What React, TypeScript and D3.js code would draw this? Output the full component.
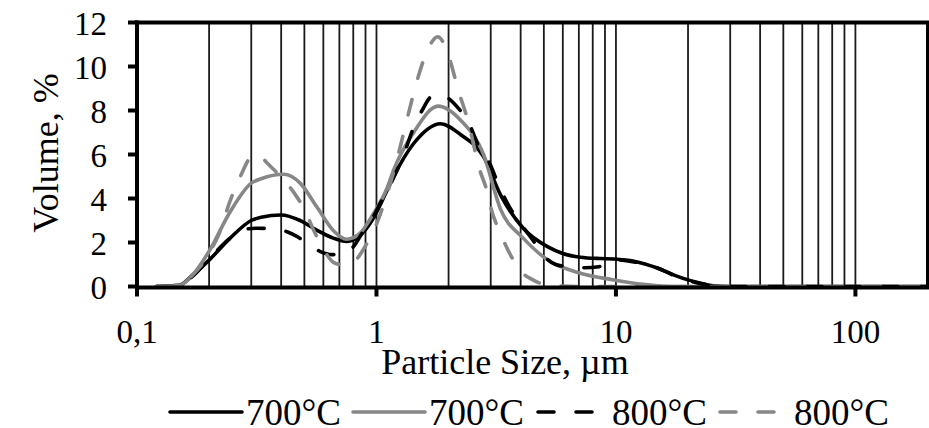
import React from "react";
import * as d3 from "d3";

// Particle size distribution: volume % against particle size (µm, log axis)
const sizes700a = [0.12, 0.15, 0.17, 0.2, 0.245, 0.3, 0.33, 0.4, 0.48, 0.565, 0.66, 0.75, 0.85, 0.97, 1.11, 1.18, 1.43, 1.85, 2.25, 2.8, 3.3, 4.1, 5.2, 6.0, 7.1, 8.6, 9.8, 11.9, 14.9, 17.5, 20, 22.6, 25.5, 30, 200];
const volume700a = [0, 0.05, 0.5, 1.2, 2.2, 3.0, 3.15, 3.25, 3.0, 2.55, 2.2, 2.05, 2.3, 3.1, 4.4, 5.0, 6.5, 7.4, 6.9, 5.9, 4.15, 2.65, 1.8, 1.5, 1.33, 1.27, 1.25, 1.15, 0.84, 0.52, 0.3, 0.15, 0.03, 0, 0];

const sizes700b = [0.12, 0.15, 0.17, 0.2, 0.245, 0.3, 0.33, 0.41, 0.48, 0.565, 0.66, 0.75, 0.85, 0.97, 1.11, 1.18, 1.43, 1.81, 2.25, 2.8, 3.3, 4.1, 5.2, 7.1, 9.8, 13, 18, 200];
const volume700b = [0, 0.05, 0.5, 1.6, 3.4, 4.7, 4.9, 5.1, 4.7, 3.6, 2.55, 2.15, 2.4, 3.3, 4.5, 5.3, 7.0, 8.2, 7.55, 6.0, 3.5, 2.2, 1.2, 0.6, 0.3, 0.1, 0, 0];

const sizes800a = [0.12, 0.15, 0.17, 0.2, 0.245, 0.28, 0.32, 0.37, 0.42, 0.47, 0.52, 0.58, 0.65, 0.72, 0.8, 0.88, 0.95, 1.05, 1.15, 1.3, 1.45, 1.55, 1.7, 1.85, 2.0, 2.2, 2.4, 2.75, 2.9, 3.3, 3.6, 4.1, 4.5, 5.0, 5.6, 6.5, 7.2, 8.5, 9.8, 11.9, 14.9, 17.5, 20, 22.6, 25.5, 30, 200];
const volume800a = [0, 0.05, 0.45, 1.25, 2.2, 2.6, 2.65, 2.6, 2.5, 2.25, 1.9, 1.6, 1.45, 1.45, 1.8, 2.5, 3.0, 3.9, 4.7, 6.0, 7.4, 8.0, 8.65, 8.75, 8.55, 8.1, 7.55, 6.1, 5.8, 4.4, 3.6, 2.7, 2.1, 1.4, 1.0, 0.88, 0.85, 0.9, 1.22, 1.12, 0.84, 0.5, 0.28, 0.13, 0.03, 0, 0];

const sizes800b = [0.12, 0.15, 0.17, 0.2, 0.22, 0.245, 0.27, 0.3, 0.32, 0.35, 0.39, 0.45, 0.5, 0.55, 0.6, 0.66, 0.7, 0.75, 0.82, 0.9, 0.97, 1.1, 1.2, 1.3, 1.4, 1.5, 1.6, 1.7, 1.8, 1.9, 2.0, 2.2, 2.4, 2.7, 2.9, 3.0, 3.3, 3.6, 4.0, 4.5, 5.0, 6.0, 7.0, 200];
const volume800b = [0, 0.05, 0.5, 1.5, 2.4, 3.9, 5.0, 5.9, 6.0, 5.6, 5.1, 4.3, 3.5, 2.5, 1.7, 1.1, 1.0, 0.95, 1.2, 1.85, 2.5, 4.1, 5.5, 7.0, 8.4, 9.6, 10.5, 11.1, 11.35, 11.1, 10.5, 8.9, 7.6, 5.3, 4.3, 3.6, 2.4, 1.5, 0.7, 0.3, 0.1, 0.02, 0, 0];

const seriesLabels = ["700°C", "700°C", "800°C", "800°C"];
const yTickValues = [0, 2, 4, 6, 8, 10, 12];
const xTickValues = [0.1, 1, 10, 100];
const xTickLabels = ["0,1", "1", "10", "100"];
const xTitle = "Particle Size, µm";
const yTitle = "Volume, %";

const W = 929;
const H = 428;
const left = 137;
const right = 927.5;
const top = 22.5;
const bottom = 286.5;
const FONT = "Liberation Serif";

const styles = [
  { color: "#000000", dash: null },
  { color: "#878787", dash: null },
  { color: "#000000", dash: "16 22" },
  { color: "#878787", dash: "16 22" },
];

export default function App() {
  const x = d3.scaleLog().domain([0.1, 200]).range([left, right]);
  const y = d3.scaleLinear().domain([0, 12]).range([bottom, top]);

  const series = [
    sizes700a.map((s, i) => [s, volume700a[i]]),
    sizes700b.map((s, i) => [s, volume700b[i]]),
    sizes800a.map((s, i) => [s, volume800a[i]]),
    sizes800b.map((s, i) => [s, volume800b[i]]),
  ];

  const line = d3
    .line<number[]>()
    .x((d) => x(d[0]))
    .y((d) => y(d[1]))
    .curve(d3.curveMonotoneX);

  // vertical gridlines at every decade subdivision
  const grid: number[] = [];
  for (let dec = 0.1; dec < 200; dec *= 10) {
    for (let k = 1; k <= 9; k++) {
      const v = dec * k;
      if (v > 0.1 && v < 200) grid.push(v);
    }
  }

  const legendX = [170, 353, 536, 718];
  const txt = { fontFamily: FONT, fill: "#000" };

  return (
    <svg width={W} height={H} style={{ position: "absolute", left: 0, top: 0, background: "#fff" }}>
      {grid.map((g, i) => (
        <line key={i} x1={x(g)} x2={x(g)} y1={top} y2={bottom} stroke="#1a1a1a" strokeWidth={1.8} />
      ))}

      {series.map((pts, i) => (
        <path
          key={i}
          d={line(pts) || ""}
          fill="none"
          stroke={styles[i].color}
          strokeWidth={3.6}
          strokeDasharray={styles[i].dash || undefined}
          strokeLinecap={styles[i].dash ? "round" : "butt"}
          strokeLinejoin="round"
        />
      ))}

      {/* frame */}
      <line x1={left - 2} x2={right + 1.5} y1={top} y2={top} stroke="#000" strokeWidth={4} />
      <line x1={right} x2={right} y1={top} y2={bottom} stroke="#000" strokeWidth={3} />
      <line x1={left} x2={left} y1={top - 2} y2={bottom + 2} stroke="#000" strokeWidth={4} />
      <line x1={left - 2} x2={right + 1.5} y1={bottom + 1} y2={bottom + 1} stroke="#000" strokeWidth={4} />

      {/* y axis */}
      {yTickValues.map((v) => (
        <g key={v}>
          <line x1={left - 9} x2={left} y1={y(v)} y2={y(v)} stroke="#000" strokeWidth={4} />
          <text x={107} y={y(v) + 12} fontSize={33} textAnchor="end" style={txt}>
            {v}
          </text>
        </g>
      ))}

      {/* x axis */}
      {xTickValues.map((v, i) => (
        <g key={v}>
          <line x1={x(v)} x2={x(v)} y1={bottom} y2={bottom + 10} stroke="#000" strokeWidth={4} />
          <text x={x(v)} y={343} fontSize={33} textAnchor="middle" style={txt}>
            {xTickLabels[i]}
          </text>
        </g>
      ))}

      <text x={505} y={374} fontSize={36} textAnchor="middle" style={txt}>
        {xTitle}
      </text>
      <text transform="translate(58,153) rotate(-90)" fontSize={36} textAnchor="middle" style={txt}>
        {yTitle}
      </text>

      {/* legend */}
      {seriesLabels.map((lab, i) => (
        <g key={i}>
          <line
            x1={legendX[i] + (styles[i].dash ? 2 : 0)}
            x2={legendX[i] + 72}
            y1={412}
            y2={412}
            stroke={styles[i].color}
            strokeWidth={3.6}
            strokeDasharray={styles[i].dash || undefined}
            strokeLinecap="round"
          />
          <text x={legendX[i] + 76} y={425} fontSize={37} style={txt}>
            {lab}
          </text>
        </g>
      ))}
    </svg>
  );
}
